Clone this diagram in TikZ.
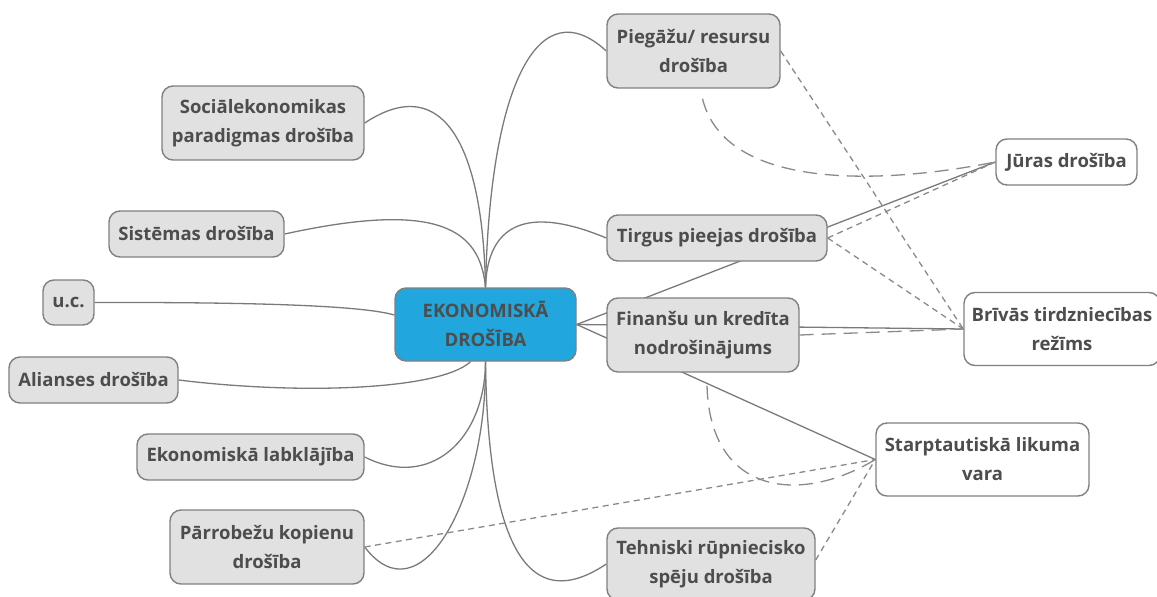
\documentclass[tikz,border=0pt]{standalone}
\usepackage{fontspec}
\setmainfont{Open Sans}
\usetikzlibrary{backgrounds}
\definecolor{cblue}{HTML}{21A6DD}
\definecolor{boxfill}{HTML}{E1E1E1}
\definecolor{bordc}{HTML}{808080}
\definecolor{txtc}{HTML}{4D4D4D}
\definecolor{linec}{HTML}{7A7A7A}
\definecolor{dashc}{HTML}{8A8A8A}
\begin{document}
\begin{tikzpicture}[x=1pt,y=-1pt,
  box/.style={draw=bordc, line width=1.4pt, rounded corners=11pt, fill=boxfill, text=txtc,
    font=\bfseries\fontsize{18.5}{29}\selectfont, align=center, inner sep=0pt},
  wbox/.style={box, fill=white},
  conn/.style={draw=linec, line width=1.3pt},
  sdash/.style={draw=dashc, line width=1.3pt, dash pattern=on 6pt off 4.5pt},
  ldash/.style={draw=dashc, line width=1.3pt, dash pattern=on 14pt off 8pt}]
\useasboundingbox (0,0) rectangle (1157,597);
% nodes
\node[box, fill=cblue, minimum width=181pt, minimum height=73pt] (c) at (485.5,324.5) {EKONOMISKĀ\\DROŠĪBA};
\node[box, minimum width=173pt, minimum height=74pt] (pieg) at (693.5,51) {Piegāžu/ resursu\\drošība};
\node[box, minimum width=202pt, minimum height=74pt] (soc) at (263,123) {Sociālekonomikas\\paradigmas drošība};
\node[box, minimum width=175pt, minimum height=46pt] (sis) at (196.5,234) {Sistēmas drošība};
\node[box, minimum width=51pt, minimum height=45pt] (uc) at (68.5,302.5) {u.c.};
\node[box, minimum width=169pt, minimum height=46pt] (ali) at (93.5,380) {Alianses drošība};
\node[box, minimum width=227pt, minimum height=46pt] (eko) at (250.5,457) {Ekonomiskā labklājība};
\node[box, minimum width=194pt, minimum height=74pt] (par) at (267,547) {Pārrobežu kopienu\\drošība};
\node[box, minimum width=220pt, minimum height=46pt] (tir) at (717,238) {Tirgus pieejas drošība};
\node[box, minimum width=192pt, minimum height=74pt] (fin) at (703,335) {Finanšu un kredīta\\nodrošinājums};
\node[box, minimum width=208pt, minimum height=72pt] (teh) at (711,564) {Tehniski rūpniecisko\\spēju drošība};
\node[wbox, minimum width=141pt, minimum height=46pt] (jur) at (1066.5,162) {Jūras drošība};
\node[wbox, minimum width=196pt, minimum height=73pt] (bri) at (1062,329) {Brīvās tirdzniecības\\režīms};
\node[wbox, minimum width=213pt, minimum height=73pt] (sta) at (982.5,459.5) {Starptautiskā likuma\\vara};
% connectors
\begin{scope}[on background layer]
\draw[conn] (c.north) .. controls (490,80) and (540,-10) .. (pieg.west);
\draw[conn] (c.north) .. controls (483,150) and (445,70) .. (soc.east);
\draw[conn] (c.north) .. controls (480,230) and (440,200) .. (sis.east);
\draw[conn] (c.north) .. controls (487,235) and (515,200) .. (tir.west);
\draw[conn] ([yshift=9.5pt]c.west) .. controls (370,308) and (300,302) .. (uc.east);
\draw[conn] ([xshift=-15pt]c.south) .. controls (440,390) and (300,395) .. (ali.east);
\draw[conn] (c.south) .. controls (485,440) and (430,490) .. (eko.east);
\draw[conn] (c.south) .. controls (487,500) and (420,620) .. (par.east);
\draw[conn] (c.south) .. controls (487,480) and (505,632) .. (teh.west);
\draw[conn] (c.east) -- (jur.west);
\draw[conn] (c.east) -- (bri.west);
\draw[conn] (c.east) -- (sta.west);
\draw[sdash] (pieg.east) -- (bri.west);
\draw[sdash] (tir.east) -- (jur.west);
\draw[sdash] (tir.east) -- (bri.west);
\draw[ldash] (fin.east) -- (bri.west);
\draw[ldash] ([xshift=9pt,yshift=-10pt]pieg.south) .. controls (725,190) and (880,185) .. (jur.west);
\draw[ldash] ([xshift=4pt,yshift=-13pt]fin.south) .. controls (710,495) and (800,505) .. (sta.west);
\draw[sdash] (par.east) -- (sta.west);
\draw[sdash] ([yshift=4pt]teh.east) -- (sta.west);
\end{scope}
\end{tikzpicture}
\end{document}
